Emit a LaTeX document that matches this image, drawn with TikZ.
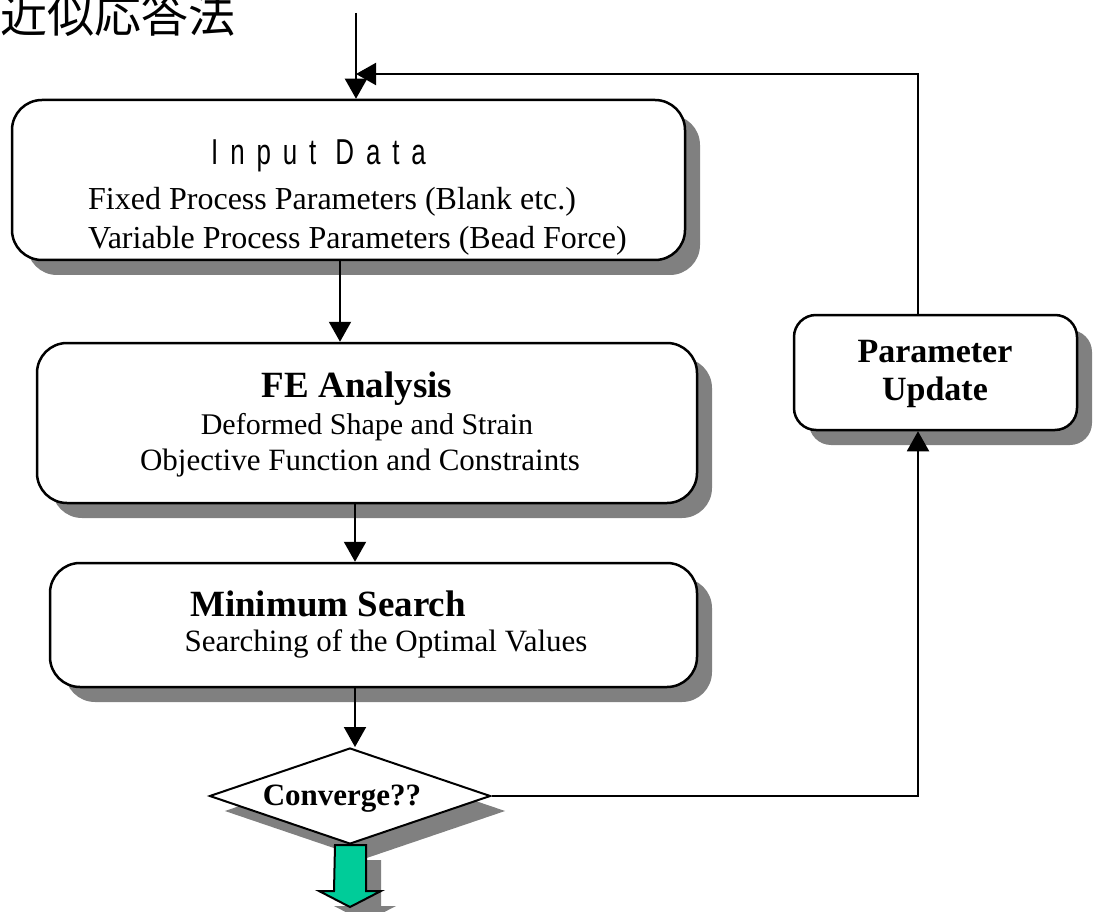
\documentclass[tikz,border=0pt]{standalone}
\usepackage{fontspec}
\setmainfont{Liberation Serif}
\newfontfamily\cjkfont{Noto Sans CJK JP}
\newfontfamily\widesans[FakeStretch=0.72,LetterSpace=33]{Liberation Sans}
\usetikzlibrary{arrows.meta,shapes.geometric,shadows}
\definecolor{shadowgray}{RGB}{128,128,128}
\definecolor{exitgreen}{RGB}{0,204,153}

\begin{document}
\begin{tikzpicture}[x=1pt,y=-1pt,
  shadowed/.style={drop shadow={shadow xshift=15pt,shadow yshift=-15pt,opacity=1,fill=shadowgray}},
  stepbox/.style={shadowed,draw,line width=2.5pt,fill=white,rounded corners=30pt,inner sep=0pt},
  smallbox/.style={stepbox,rounded corners=22pt},
  decision/.style={shadowed,diamond,draw,line width=2pt,fill=white,inner sep=0pt},
  flow/.style={line width=2pt,-{Triangle[length=20pt,width=22pt]}},
  body/.style={inner sep=0pt,font=\fontsize{30}{36}\selectfont},
  bigbody/.style={inner sep=0pt,font=\fontsize{32}{38}\selectfont},
  midbody/.style={inner sep=0pt,font=\fontsize{31}{37}\selectfont},
  heading/.style={inner sep=0pt,font=\bfseries\fontsize{37}{44}\selectfont},
]
\useasboundingbox (0,0) rectangle (1093,912);

% title
\node[anchor=base west,inner sep=0pt,font=\cjkfont\fontsize{47}{52}\selectfont] (title) at (0,33) {近似応答法};

% process boxes
\node[stepbox,minimum width=673pt,minimum height=160pt] (input) at (348.5,180) {};
\node[stepbox,minimum width=660pt,minimum height=160pt] (fe) at (367,423) {};
\node[stepbox,minimum width=647pt,minimum height=124pt] (search) at (373.5,625) {};
\node[smallbox,minimum width=283pt,minimum height=115pt] (update) at (935.5,372.5) {};
\node[decision,minimum width=281pt,minimum height=96pt] (conv) at (350,796) {};

% box texts
\node[anchor=base west,inner sep=0pt,font=\widesans\fontsize{36}{40}\selectfont] (inputhead) at (211,165) {Input Data};
\node[bigbody,anchor=base west] (fixed) at (88,210) {Fixed Process Parameters (Blank etc.)};
\node[bigbody,anchor=base west] (variable) at (88,249) {Variable Process Parameters (Bead Force)};

\node[heading,anchor=base] (fehead) at (357,397) {FE Analysis};
\node[body,anchor=base] (deformed) at (367,434) {Deformed Shape and Strain};
\node[midbody,anchor=base] (objective) at (360,470) {Objective Function and Constraints};

\node[heading,anchor=base] (searchhead) at (328,616) {Minimum Search};
\node[midbody,anchor=base] (searching) at (386,651) {Searching of the Optimal Values};

\node[heading,anchor=base,font=\bfseries\fontsize{34}{40}\selectfont] (param) at (935,362) {Parameter};
\node[heading,anchor=base,font=\bfseries\fontsize{34}{40}\selectfont] (upd) at (935,400) {Update};

\node[anchor=base,inner sep=0pt,font=\bfseries\fontsize{31}{36}\selectfont] (convtext) at (342,805) {Converge??};

% connectors
\coordinate (entry) at (356,13);
\coordinate (join) at (356,74);
\coordinate (loopT) at (918,74);
\coordinate (loopB) at (918,796);
\coordinate (colA) at (340,0);
\coordinate (colB) at (355,0);

\draw[flow] (entry) -- (entry |- input.north);
\draw[flow] (loopT |- update.north) -- (loopT) -- (join);
\draw[flow] (colA |- input.south) -- (colA |- fe.north);
\draw[flow] (colB |- fe.south) -- (colB |- search.north);
\draw[flow] (colB |- search.south) -- (colB |- conv.north);
\draw[flow] (conv.east) -- (loopB) -- (loopB |- update.south);

% exit arrow below the decision
\fill[shadowgray] ([shift={(15,15)}]conv.south) ++(-15,0) -- ++(31,0) -- ++(0,46) -- ++(15,0)
  -- ++(-31,16) -- ++(-31,-16) -- ++(15,0) -- cycle;
\filldraw[fill=exitgreen,draw=black,line width=2pt] (conv.south) ++(-15,0) -- ++(31,0) -- ++(0,46) -- ++(15,0)
  -- ++(-31,16) -- ++(-31,-16) -- ++(15,0) -- cycle;
\end{tikzpicture}
\end{document}
